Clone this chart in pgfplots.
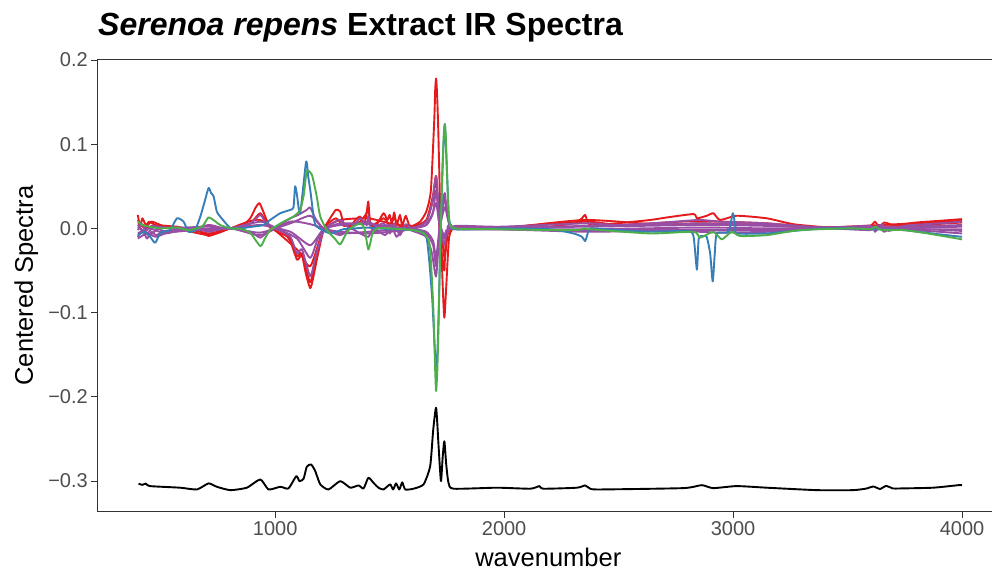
\documentclass[border=0pt]{standalone}
\usepackage{fontspec}
\setmainfont{Liberation Sans}
\usepackage{pgfplots}
\pgfplotsset{compat=1.18}
\definecolor{cRed}{HTML}{E41A1C}
\definecolor{cBlue}{HTML}{377EB8}
\definecolor{cGreen}{HTML}{4DAF4A}
\definecolor{cPurple}{HTML}{984EA3}
\definecolor{gray20}{HTML}{333333}
\definecolor{tickgray}{HTML}{4D4D4D}
\pgfplotsset{spec/.style={line width=1.9bp, line join=round, mark=none, smooth, tension=0.35}}
\begin{document}
\begin{tikzpicture}
\begin{axis}[
  scale only axis, width=894.7bp, height=452.4bp,
  xmin=223, xmax=4131, ymin=-0.3364, ymax=0.2008,
  axis lines*=left,
  axis line style={draw=gray20, line width=0.9bp, -},
  tick align=outside, major tick length=6bp,
  tick style={draw=gray20, line width=0.9bp},
  xtick={1000,2000,3000,4000}, xticklabels={1000,2000,3000,4000},
  ytick={-0.3,-0.2,-0.1,0,0.1,0.2},
  yticklabels={−0.3,−0.2,−0.1,0.0,0.1,0.2},
  ticklabel style={font=\fontsize{20bp}{22bp}\selectfont, text=tickgray},
]
% red 1
\addplot[spec, cRed] coordinates {
(400,0.016)(410,0.002)(420,0.012)(435,0.004)(450,0.008)(476,0.004)(520,0.003)(571,0.002)(621,-0.001)(673,-0.004)(709,-0.009)(731,-0.007)(760,-0.002)(804,0.000)(847,0.001)(891,0.012)(915,0.025)(931,0.030)(945,0.022)(978,0.001)(1022,-0.002)(1036,-0.004)(1066,-0.015)(1095,-0.037)(1110,-0.033)(1117,-0.031)(1135,-0.055)(1153,-0.071)(1165,-0.060)(1182,-0.037)(1211,-0.002)(1240,0.012)(1265,0.022)(1284,0.020)(1300,0.005)(1328,0.002)(1350,0.010)(1371,0.014)(1390,0.006)(1400,0.020)(1407,0.032)(1415,0.005)(1440,0.003)(1473,0.018)(1490,0.010)(1500,0.016)(1510,0.006)(1520,0.019)(1530,0.004)(1545,0.016)(1555,0.003)(1570,0.015)(1585,0.004)(1600,0.003)(1633,0.008)(1660,0.020)(1680,0.045)(1695,0.130)(1699,0.165)(1703,0.178)(1707,0.160)(1712,0.120)(1722,0.010)(1732,-0.070)(1739,-0.106)(1747,-0.070)(1760,-0.010)(1786,0.002)(1852,0.001)(1983,0.000)(2100,0.000)(2201,0.002)(2303,0.006)(2340,0.012)(2354,0.016)(2376,0.004)(2492,0.006)(2638,0.010)(2711,0.013)(2827,0.017)(2842,0.012)(2885,0.015)(2914,0.018)(2943,0.010)(3016,0.015)(3147,0.012)(3263,0.005)(3400,0.0015)(3511,0.0015)(3600,0.003)(3620,0.008)(3640,0.001)(3660,0.007)(3700,0.004)(3744,0.005)(3800,0.007)(3900,0.009)(4000,0.011)
};
% red 2
\addplot[spec, cRed] coordinates {
(400,0.010)(430,0.000)(460,0.008)(520,0.002)(621,0.000)(709,-0.006)(804,0.000)(891,0.006)(935,0.018)(978,0.001)(1066,-0.012)(1095,-0.033)(1117,-0.030)(1153,-0.064)(1182,-0.030)(1211,0.000)(1265,0.012)(1300,0.003)(1371,0.008)(1407,0.020)(1420,0.003)(1473,0.012)(1500,0.004)(1520,0.012)(1545,0.002)(1600,0.002)(1660,0.010)(1690,0.040)(1703,0.062)(1715,0.010)(1732,-0.020)(1741,-0.035)(1755,-0.005)(1786,0.002)(1983,0.001)(2354,0.008)(2500,0.004)(2700,0.007)(2850,0.009)(2950,0.008)(3147,0.006)(3400,0.001)(3744,0.003)(4000,0.007)
};
% red 3
\addplot[spec, cRed] coordinates {
(400,0.006)(450,0.001)(520,0.003)(709,-0.008)(804,0.000)(935,0.010)(1095,-0.025)(1153,-0.045)(1211,-0.002)(1284,0.010)(1407,0.012)(1500,0.006)(1600,0.002)(1660,0.008)(1690,0.035)(1703,0.060)(1720,-0.010)(1739,-0.050)(1760,-0.002)(1983,0.000)(2354,0.010)(2700,0.004)(2850,0.006)(3147,0.004)(3400,0.001)(4000,0.009)
};
% purple 1
\addplot[spec, cPurple] coordinates {
(400,-0.010)(420,-0.002)(440,-0.012)(460,-0.004)(480,-0.008)(520,-0.003)(571,-0.002)(650,0.000)(709,-0.004)(760,-0.001)(804,0.000)(891,0.006)(935,0.016)(960,0.006)(1000,0.000)(1066,-0.010)(1095,-0.030)(1117,-0.025)(1153,-0.057)(1175,-0.035)(1211,-0.003)(1250,0.006)(1284,0.010)(1328,0.000)(1371,0.012)(1400,0.004)(1407,0.015)(1420,0.000)(1473,0.006)(1500,-0.006)(1520,0.006)(1545,-0.008)(1570,0.005)(1600,0.000)(1660,0.008)(1685,0.030)(1703,0.062)(1715,0.020)(1730,-0.010)(1739,-0.020)(1750,-0.005)(1786,0.003)(1983,0.002)(2354,0.006)(2500,0.004)(2700,0.007)(2850,0.010)(2950,0.008)(3147,0.006)(3400,0.001)(3600,0.003)(3620,-0.004)(3650,0.005)(3680,-0.003)(3744,0.003)(3900,0.006)(4000,0.008)
};
% purple 2
\addplot[spec, cPurple] coordinates {
(400,-0.002)(420,0.005)(440,-0.006)(470,0.002)(520,-0.004)(600,-0.003)(709,0.004)(760,0.001)(804,0.000)(891,-0.004)(935,-0.011)(970,-0.003)(1022,0.004)(1066,0.012)(1100,0.016)(1138,0.022)(1153,0.025)(1175,0.012)(1211,0.000)(1284,-0.008)(1328,0.000)(1371,-0.006)(1407,-0.010)(1430,0.000)(1480,-0.008)(1510,0.002)(1530,-0.010)(1560,0.000)(1600,-0.003)(1660,-0.010)(1685,-0.030)(1703,-0.057)(1718,0.000)(1732,0.030)(1741,0.042)(1752,0.015)(1786,0.000)(1983,-0.001)(2354,-0.004)(2638,-0.003)(2850,-0.004)(2950,-0.005)(3147,-0.004)(3400,0.000)(3600,-0.002)(3630,0.004)(3660,-0.004)(3700,0.002)(3744,-0.001)(3900,-0.004)(4000,-0.006)
};
% purple 3
\addplot[spec, cPurple] coordinates {
(400,0.004)(430,-0.004)(460,0.003)(520,0.001)(600,0.001)(709,0.002)(804,0.000)(935,0.008)(1000,0.001)(1095,-0.012)(1153,-0.035)(1190,-0.010)(1240,0.002)(1284,0.006)(1371,0.006)(1407,0.008)(1450,0.002)(1500,0.004)(1540,-0.004)(1600,0.001)(1660,0.004)(1685,0.015)(1703,0.030)(1720,0.000)(1739,-0.012)(1760,0.000)(1983,0.000)(2354,0.003)(2850,0.006)(3147,0.004)(3400,0.001)(3744,0.002)(4000,0.004)
};
% purple 4
\addplot[spec, cPurple] coordinates {
(400,-0.012)(440,-0.006)(480,-0.010)(540,-0.004)(650,-0.002)(804,0.000)(935,-0.005)(1066,0.006)(1153,0.015)(1211,0.000)(1284,-0.004)(1407,-0.006)(1500,-0.004)(1600,-0.001)(1660,-0.004)(1690,-0.015)(1703,-0.035)(1718,0.000)(1741,0.025)(1760,0.005)(1786,0.000)(2354,-0.002)(2850,-0.002)(3147,-0.002)(3400,0.000)(3744,0.000)(4000,-0.003)
};
% purple 5
\addplot[spec, cPurple] coordinates {
(400,0.002)(450,-0.008)(500,0.001)(600,-0.002)(709,-0.002)(804,0.000)(935,0.004)(1066,-0.004)(1153,-0.020)(1211,-0.001)(1284,0.004)(1407,0.005)(1500,0.002)(1600,0.000)(1660,0.004)(1690,0.020)(1703,0.045)(1720,0.005)(1741,-0.010)(1760,-0.002)(1786,0.001)(2354,0.002)(2850,0.004)(3147,0.003)(3400,0.001)(3744,0.001)(4000,0.002)
};
% purple 6
\addplot[spec, cPurple] coordinates {
(400,-0.006)(450,0.000)(520,-0.006)(600,-0.002)(804,0.000)(935,-0.008)(1066,0.008)(1153,0.005)(1211,0.000)(1284,-0.006)(1407,-0.004)(1500,-0.002)(1600,-0.002)(1660,-0.006)(1690,-0.020)(1703,-0.045)(1720,0.000)(1741,0.035)(1760,0.006)(1786,-0.001)(2354,-0.001)(2850,0.001)(3147,0.000)(3400,0.000)(3744,-0.001)(4000,-0.001)
};
% blue
\addplot[spec, cBlue] coordinates {
(400,-0.008)(430,-0.004)(454,-0.010)(476,-0.017)(500,-0.005)(540,-0.002)(571,0.012)(600,0.008)(621,-0.004)(650,-0.002)(673,0.014)(690,0.030)(709,0.048)(720,0.042)(731,0.038)(745,0.020)(760,0.014)(804,0.0005)(847,0.000)(900,0.002)(949,0.004)(978,0.010)(1022,0.018)(1066,0.022)(1080,0.025)(1087,0.050)(1095,0.040)(1109,0.018)(1135,0.079)(1145,0.060)(1153,0.046)(1170,0.010)(1182,0.002)(1240,-0.006)(1297,-0.001)(1350,0.000)(1400,0.001)(1500,-0.001)(1600,-0.002)(1660,-0.010)(1685,-0.080)(1703,-0.170)(1712,-0.120)(1722,-0.010)(1732,0.080)(1741,0.124)(1750,0.070)(1760,0.010)(1786,-0.001)(1983,0.000)(2201,-0.001)(2303,-0.006)(2340,-0.010)(2354,-0.015)(2365,-0.006)(2376,0.000)(2500,-0.002)(2638,-0.004)(2800,-0.003)(2827,-0.009)(2842,-0.049)(2850,-0.012)(2870,-0.009)(2885,-0.010)(2900,-0.030)(2911,-0.063)(2920,-0.030)(2929,-0.006)(2980,-0.004)(2999,0.018)(3010,0.002)(3016,-0.006)(3147,-0.006)(3263,-0.003)(3400,0.000)(3511,0.000)(3600,-0.001)(3744,-0.002)(3900,-0.007)(4000,-0.010)
};
% green
\addplot[spec, cGreen] coordinates {
(400,0.008)(420,0.004)(450,0.002)(500,0.000)(571,0.001)(621,-0.002)(680,0.002)(709,0.013)(740,0.008)(760,0.004)(804,0.000)(847,-0.0005)(890,-0.005)(935,-0.021)(955,-0.012)(978,-0.002)(1036,0.008)(1080,0.014)(1109,0.022)(1125,0.040)(1138,0.068)(1160,0.064)(1180,0.040)(1197,0.014)(1226,-0.002)(1260,-0.012)(1284,-0.019)(1310,-0.006)(1328,0.000)(1371,0.006)(1390,0.000)(1407,-0.025)(1425,-0.006)(1444,0.000)(1500,0.000)(1600,-0.002)(1650,-0.006)(1675,-0.020)(1690,-0.090)(1699,-0.170)(1703,-0.193)(1708,-0.170)(1713,-0.120)(1722,-0.010)(1732,0.080)(1737,0.115)(1741,0.123)(1745,0.110)(1750,0.070)(1760,0.010)(1786,0.000)(1983,-0.001)(2201,-0.002)(2318,-0.002)(2354,0.000)(2376,-0.001)(2638,-0.006)(2827,-0.004)(2856,-0.011)(2914,-0.004)(2951,-0.013)(2994,-0.004)(3031,-0.009)(3147,-0.008)(3293,-0.002)(3511,0.000)(3600,-0.001)(3620,0.002)(3650,-0.002)(3744,-0.002)(3850,-0.006)(4000,-0.013)
};
% black reference spectrum
\addplot[spec, black] coordinates {
(403,-0.3032)(420,-0.3045)(435,-0.3030)(454,-0.3060)(585,-0.3079)(658,-0.3100)(709,-0.3028)(745,-0.3068)(804,-0.3108)(876,-0.3079)(935,-0.2981)(971,-0.3100)(1022,-0.3068)(1058,-0.3088)(1092,-0.2942)(1106,-0.3001)(1124,-0.2973)(1138,-0.2830)(1157,-0.2803)(1175,-0.2882)(1197,-0.3040)(1233,-0.3100)(1284,-0.3001)(1328,-0.3079)(1364,-0.3052)(1386,-0.3088)(1407,-0.2961)(1429,-0.3020)(1451,-0.3079)(1473,-0.3100)(1502,-0.3040)(1515,-0.3100)(1528,-0.3028)(1542,-0.3100)(1555,-0.3016)(1568,-0.3100)(1604,-0.3091)(1648,-0.3040)(1677,-0.2823)(1690,-0.2400)(1703,-0.2130)(1714,-0.2600)(1724,-0.3001)(1732,-0.2700)(1739,-0.2527)(1747,-0.2800)(1757,-0.3020)(1779,-0.3091)(1968,-0.3079)(2114,-0.3091)(2154,-0.3060)(2172,-0.3091)(2318,-0.3079)(2354,-0.3052)(2376,-0.3091)(2419,-0.3100)(2782,-0.3084)(2863,-0.3049)(2913,-0.3084)(3016,-0.3060)(3147,-0.3079)(3366,-0.3108)(3524,-0.3108)(3584,-0.3088)(3612,-0.3064)(3642,-0.3094)(3668,-0.3058)(3699,-0.3088)(3729,-0.3088)(3874,-0.3079)(3984,-0.3049)(4000,-0.3050)
};
\draw[gray20, line width=0.9bp] (rel axis cs:0,1) -- (rel axis cs:1,1);
\end{axis}
\node[anchor=base west, inner sep=0pt] at ([xshift=0.7bp, yshift=23.3bp]current axis.north west)
  {\fontsize{32bp}{34bp}\selectfont{\bfseries\itshape Serenoa repens} \textbf{Extract IR Spectra}};
\node[anchor=base, inner sep=0pt] at ([xshift=451bp, yshift=-54.3bp]current axis.south west)
  {\fontsize{25.5bp}{27bp}\selectfont wavenumber};
\node[anchor=base, rotate=90, inner sep=0pt] at ([xshift=-64.3bp]current axis.west)
  {\fontsize{25.5bp}{27bp}\selectfont Centered Spectra};
\pgfresetboundingbox
\path[use as bounding box] ([xshift=-97.3bp, yshift=-65.3bp]current axis.south west) rectangle ([yshift=59.3bp]current axis.north east);
\end{tikzpicture}
\end{document}
